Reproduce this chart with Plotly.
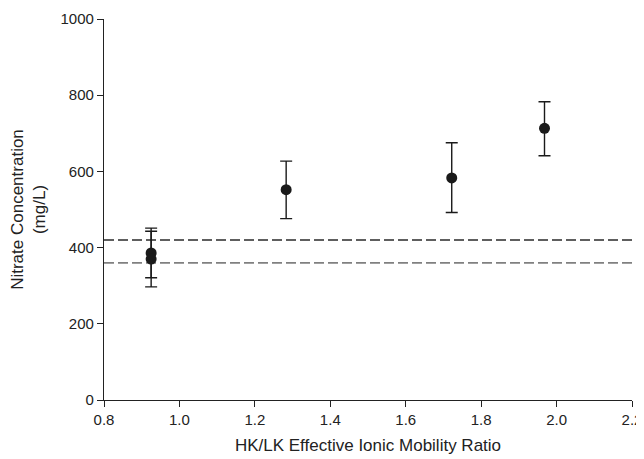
import plotly.graph_objects as go

x_vals = [0.925, 0.925, 1.283, 1.722, 1.968]
y_vals = [386, 370, 552, 583, 713]
err_plus = [65, 73, 75, 92, 70]
err_minus = [65, 73, 76, 91, 72]
ref_lines = [420, 360]
ref_colors = ["#2a2a2a", "#808080"]
ref_widths = [1.3, 1.6]
x_ticks = [0.8, 1.0, 1.2, 1.4, 1.6, 1.8, 2.0, 2.2]
y_ticks = [0, 200, 400, 600, 800, 1000]

fig = go.Figure()
for yv, c, w in zip(ref_lines, ref_colors, ref_widths):
    fig.add_trace(go.Scatter(x=[0.8, 2.2], y=[yv, yv], mode="lines",
                             line=dict(color=c, width=w, dash="10px,4px"),
                             showlegend=False, hoverinfo="skip", cliponaxis=False))
fig.add_trace(go.Scatter(
    x=x_vals, y=y_vals, mode="markers",
    marker=dict(color="#1a1a1a", size=11),
    error_y=dict(type="data", symmetric=False, array=err_plus, arrayminus=err_minus,
                 color="#1a1a1a", thickness=1.4, width=6),
    showlegend=False))

fig.update_layout(
    width=644, height=459,
    margin=dict(l=96, r=20, t=11, b=67, autoexpand=False),
    paper_bgcolor="white", plot_bgcolor="white",
    font=dict(family="Liberation Sans, Arial, sans-serif", size=15, color="#222222"),
    xaxis=dict(range=[0.8, 2.2], tickvals=x_ticks, ticktext=[f"{v:.1f}" for v in x_ticks],
               automargin=False,
               showgrid=False, zeroline=False, showline=True, linecolor="#222222", linewidth=1.2,
               ticks="outside", ticklen=6, tickcolor="#222222",
               title=dict(text="HK/LK Effective Ionic Mobility Ratio", font=dict(size=17), standoff=12)),
    yaxis=dict(range=[0, 1000], tickvals=y_ticks, automargin=False,
               showgrid=False, zeroline=False, showline=True, linecolor="#222222", linewidth=1.2,
               ticks="outside", ticklen=6, tickcolor="#222222",
               title=dict(text="Nitrate Concentration<br>(mg/L)", font=dict(size=17), standoff=14)),
)
fig.write_html("out.html")
